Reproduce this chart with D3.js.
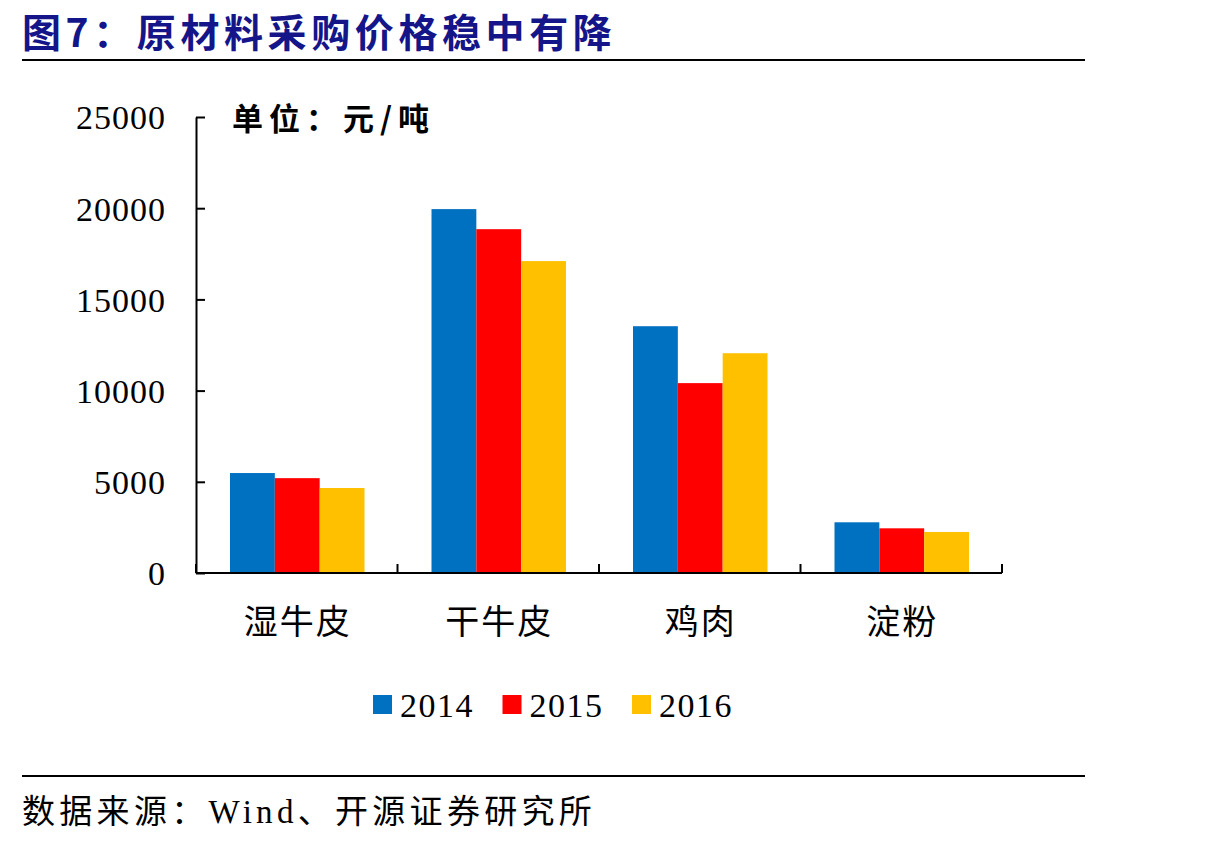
<!DOCTYPE html>
<html>
<head>
<meta charset="utf-8">
<script src="https://cdn.jsdelivr.net/npm/d3@7"></script>
<style>
  body { margin: 0; background: #fff; }
  svg { display: block; }
  .axis path, .axis line { stroke: #000; stroke-width: 2; }
  .axis text { font-family: "Liberation Serif", serif; font-size: 34px; letter-spacing: 1px; fill: #000; }
</style>
</head>
<body>
<div id="chart"></div>
<script>
var categories = ["湿牛皮", "干牛皮", "鸡肉", "淀粉"];
var years = ["2014", "2015", "2016"];
var values2014 = [5480, 19950, 13530, 2780];
var values2015 = [5200, 18850, 10410, 2450];
var values2016 = [4660, 17100, 12050, 2250];
var yTicks = [0, 5000, 10000, 15000, 20000, 25000];
var colors = ["#0070C0", "#FF0000", "#FFC000"];

var series = [values2014, values2015, values2016];

var W = 1210, H = 844;
var margin = {top: 117, left: 196, right: 208, bottom: 271};
var width = W - margin.left - margin.right, height = H - margin.top - margin.bottom;

var svg = d3.select("#chart").append("svg")
    .attr("width", W)
    .attr("height", H);

// title + rules
svg.append("text")
    .attr("x", 22).attr("y", 47)
    .style("font-family", "'Noto Sans CJK SC', sans-serif")
    .style("font-weight", "bold")
    .style("font-size", "39px")
    .style("letter-spacing", "4.6px")
    .style("fill", "#15158a")
    .text("图7：原材料采购价格稳中有降");

svg.append("line")
    .attr("x1", 22).attr("x2", 1085).attr("y1", 60).attr("y2", 60)
    .attr("stroke", "#000").attr("stroke-width", 2);

svg.append("line")
    .attr("x1", 22).attr("x2", 1085).attr("y1", 776).attr("y2", 776)
    .attr("stroke", "#000").attr("stroke-width", 2);

svg.append("text")
    .attr("x", 22).attr("y", 823)
    .style("font-family", "'Liberation Serif', 'Noto Sans CJK SC', serif")
    .style("font-size", "33px")
    .style("letter-spacing", "4.3px")
    .style("fill", "#000")
    .text("数据来源：Wind、开源证券研究所");

var g = svg.append("g")
    .attr("transform", "translate(" + margin.left + "," + margin.top + ")");

var x0 = d3.scaleBand()
    .domain(categories)
    .range([0, width])
    .paddingInner(0)
    .paddingOuter(0);

var x1 = d3.scaleBand()
    .domain(years)
    .range([34, x0.bandwidth() - 33])
    .padding(0);

var y = d3.scaleLinear()
    .domain([0, 25000])
    .range([height, 0]);

// bars
var groups = g.selectAll("g.cat")
    .data(categories)
  .enter().append("g")
    .attr("class", "cat")
    .attr("transform", function(d){ return "translate(" + x0(d) + ",0)"; });

groups.selectAll("rect")
    .data(function(d, i){ return years.map(function(yr, j){ return {year: yr, value: series[j][i], k: j}; }); })
  .enter().append("rect")
    .attr("x", function(d){ return x1(d.year); })
    .attr("y", function(d){ return y(d.value); })
    .attr("width", x1.bandwidth())
    .attr("height", function(d){ return height - y(d.value); })
    .style("fill", function(d){ return colors[d.k]; });

// y axis
var yAxis = d3.axisLeft(y).tickValues(yTicks).tickFormat(d3.format("d"))
    .tickSizeInner(-9).tickSizeOuter(0).tickPadding(30);
g.append("g")
    .attr("class", "y axis")
    .call(yAxis)
    .selectAll("text")
      .attr("dy", "0.35em");

// x axis with boundary ticks
var xAxisG = g.append("g")
    .attr("class", "x axis")
    .attr("transform", "translate(0," + height + ")");

xAxisG.append("line")
    .attr("x1", 0).attr("x2", width).attr("y1", 0).attr("y2", 0);

xAxisG.selectAll("line.sep")
    .data(d3.range(categories.length + 1))
  .enter().append("line")
    .attr("class", "sep")
    .attr("x1", function(i){ return i * x0.bandwidth(); })
    .attr("x2", function(i){ return i * x0.bandwidth(); })
    .attr("y1", 0).attr("y2", -9);

xAxisG.selectAll("text.cat")
    .data(categories)
  .enter().append("text")
    .attr("class", "cat")
    .attr("x", function(d){ return x0(d) + x0.bandwidth() / 2 + 1; })
    .attr("y", 61)
    .attr("text-anchor", "middle")
    .style("font-family", "'Noto Sans CJK SC', sans-serif")
    .style("font-size", "34px")
    .style("letter-spacing", "2px")
    .text(function(d){ return d; });

// unit label
g.append("text")
    .attr("x", 36).attr("y", 13)
    .style("font-family", "'Noto Sans CJK SC', sans-serif")
    .style("font-weight", "bold")
    .style("font-size", "31px")
    .style("letter-spacing", "6px")
    .text("单位：元/吨");

// legend
var legend = svg.append("g")
    .attr("transform", "translate(373,695)");

var items = legend.selectAll("g")
    .data(years)
  .enter().append("g")
    .attr("transform", function(d, i){ return "translate(" + (i * 129.5) + ",0)"; });

items.append("rect")
    .attr("width", 19).attr("height", 19)
    .style("fill", function(d, i){ return colors[i]; });

items.append("text")
    .attr("x", 27).attr("y", 22)
    .style("font-family", "'Liberation Serif', serif")
    .style("font-size", "34px")
    .style("letter-spacing", "1.5px")
    .text(function(d){ return d; });
</script>
</body>
</html>
